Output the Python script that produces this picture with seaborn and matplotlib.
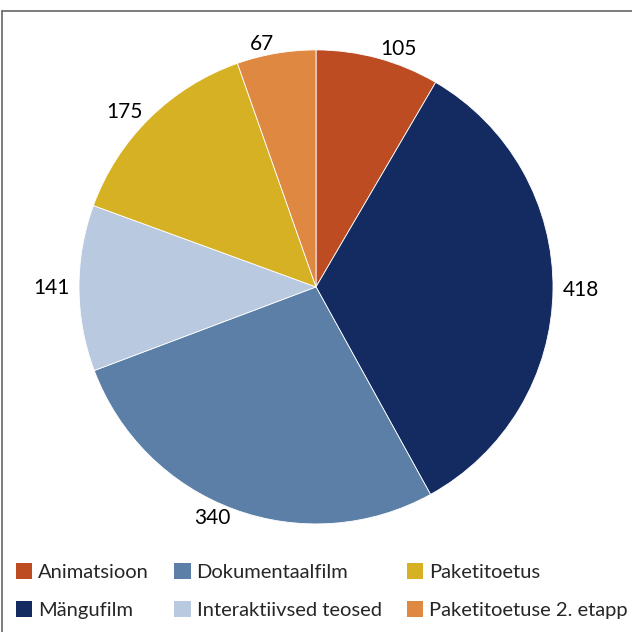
import matplotlib
matplotlib.use("Agg")
import matplotlib.pyplot as plt
import seaborn as sns
from matplotlib.lines import Line2D
from matplotlib.patches import Patch

# data
categories = ["Animatsioon", "Mängufilm", "Dokumentaalfilm",
              "Interaktiivsed teosed", "Paketitoetus", "Paketitoetuse 2. etapp"]
values = [105, 418, 340, 141, 175, 67]
colors = ["#BD4C23", "#132B61", "#5B7FA6", "#B8C9E0", "#D6B124", "#DF8841"]

sns.set_style("white")
plt.rcParams["font.family"] = ["Lato", "DejaVu Sans"]

fig = plt.figure(figsize=(6.32, 6.32), dpi=100)
ax = fig.add_axes([0.125, 0.171, 0.75, 0.75])

wedges, texts = ax.pie(values, colors=colors, startangle=90, counterclock=False,
                       labels=[str(v) for v in values], labeldistance=1.04,
                       radius=1, wedgeprops=dict(linewidth=0.6, edgecolor="white"),
                       textprops=dict(fontsize=15, color="black"))
ax.set_xlim(-1, 1)
ax.set_ylim(-1, 1)
ax.set_aspect("equal")
ax.axis("off")

handles = [Patch(facecolor=c, edgecolor="none") for c in colors]
fig.legend(handles, categories, ncol=3, loc="lower left",
           bbox_to_anchor=(0.005, 0.0), frameon=False, fontsize=14.5,
           handlelength=0.8, handleheight=0.8, handletextpad=0.3,
           columnspacing=1.25, labelspacing=1.0, borderaxespad=0.25)

# frame lines (top and left) like the source picture
fig.add_artist(Line2D([0.003, 1.0], [0.983, 0.983], transform=fig.transFigure,
                      color="#666666", linewidth=1.2))
fig.add_artist(Line2D([0.003, 0.003], [0.0, 0.983], transform=fig.transFigure,
                      color="#666666", linewidth=1.2))

fig.savefig("out.png", dpi=100)
